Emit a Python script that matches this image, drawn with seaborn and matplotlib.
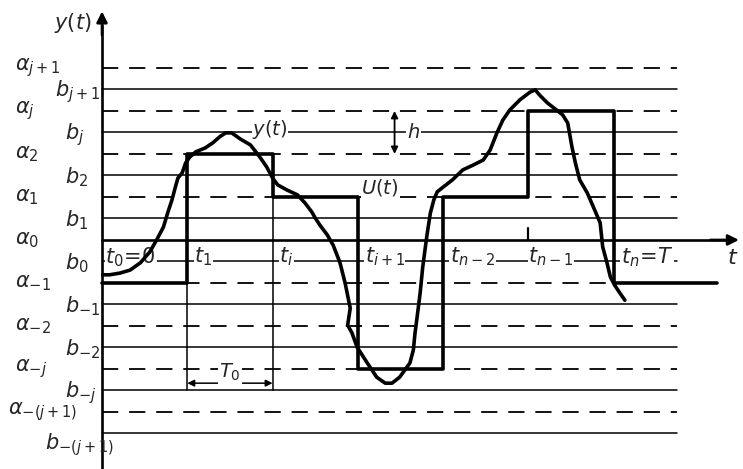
import matplotlib
matplotlib.use("Agg")
import matplotlib.pyplot as plt
import seaborn as sns
import pandas as pd

sns.set_theme(style="white")
plt.rcParams["font.family"] = ["DejaVu Sans"]
plt.rcParams["mathtext.fontset"] = "dejavusans"

# ---- data (t in units of T0, y in units of h) ----
a_levels = [4, 3, 2, 1, 0, -1, -2, -3, -4]
a_labels = [r"$\alpha_{j+1}$", r"$\alpha_j$", r"$\alpha_2$", r"$\alpha_1$", r"$\alpha_0$",
            r"$\alpha_{-1}$", r"$\alpha_{-2}$", r"$\alpha_{-j}$", r"$\alpha_{-(j+1)}$"]
b_levels = [3.5, 2.5, 1.5, 0.5, -0.5, -1.5, -2.5, -3.5, -4.5]
b_labels = [r"$b_{j+1}$", r"$b_j$", r"$b_2$", r"$b_1$", r"$b_0$",
            r"$b_{-1}$", r"$b_{-2}$", r"$b_{-j}$", r"$b_{-(j+1)}$"]

t_ticks = [0, 1, 2, 3, 4, 5, 6]
t_labels = [r"$t_0\!=\!0$", r"$t_1$", r"$t_i$", r"$t_{i+1}$", r"$t_{n-2}$", r"$t_{n-1}$", r"$t_n\!=\!T$"]

u_t = [0, 1, 2, 3, 4, 5, 6, 7.21]
u_val = [-1, 2, 1, -3, 1, 3, -1, -1]

y_t = [0.01, 0.09, 0.21, 0.33, 0.45, 0.56, 0.64, 0.72, 0.77, 0.82, 0.86, 0.89, 0.94, 0.98,
       1.03, 1.10, 1.21, 1.30, 1.38, 1.45, 1.52, 1.62, 1.74, 1.85, 1.93, 2.00, 2.06, 2.17,
       2.29, 2.38, 2.46, 2.50, 2.56, 2.64, 2.71, 2.79, 2.85, 2.91, 2.91, 2.88, 2.93, 2.99,
       3.11, 3.22, 3.32, 3.40, 3.49, 3.61, 3.65, 3.67, 3.69, 3.73, 3.76, 3.81, 3.81, 3.85,
       3.89, 3.93, 4.00, 4.11, 4.23, 4.35, 4.47, 4.55, 4.63, 4.70, 4.78, 4.90, 5.02, 5.08,
       5.13, 5.22, 5.33, 5.40, 5.46, 5.51, 5.55, 5.60, 5.69, 5.76, 5.84, 5.87, 5.92, 5.96,
       6.01, 6.07, 6.13]
y_val = [-0.81, -0.81, -0.77, -0.70, -0.53, -0.28, 0.00, 0.30, 0.63, 0.93, 1.23, 1.44, 1.56, 1.79,
         1.93, 2.05, 2.14, 2.26, 2.40, 2.49, 2.49, 2.35, 2.21, 1.93, 1.70, 1.44, 1.28, 1.16,
         1.05, 0.86, 0.65, 0.51, 0.33, 0.12, -0.12, -0.53, -1.00, -1.47, -1.70, -1.98, -2.16, -2.49,
         -2.86, -3.19, -3.33, -3.33, -3.19, -2.86, -2.56, -2.16, -1.86, -1.23, -0.63, 0.00, 0.23, 0.63,
         0.93, 1.12, 1.23, 1.40, 1.63, 1.74, 1.86, 2.09, 2.49, 2.79, 3.02, 3.26, 3.44, 3.49,
         3.37, 3.19, 3.02, 2.91, 2.72, 2.16, 1.79, 1.40, 1.09, 0.77, 0.40, -0.16, -0.53, -0.86,
         -1.05, -1.23, -1.40]

# ---- figure ----
fig = plt.figure(figsize=(7.43, 4.69), dpi=100)
ax = fig.add_axes([0, 0, 1, 1])

x_end = 6.74
thin = 1.1
# horizontal level lines
for lv in a_levels:
    if lv == 0:
        continue
    ax.plot([0, x_end], [lv, lv], color="black", lw=1.3, ls=(0, (9, 6)), zorder=1)
for lv in b_levels:
    ax.plot([0, x_end], [lv, lv], color="black", lw=thin, zorder=1)

# axes
ax.plot([0, 0], [-5.33, 5.0], color="black", lw=1.9, zorder=3)
ax.annotate("", xy=(0, 5.38), xytext=(0, 4.7),
            arrowprops=dict(arrowstyle="-|>", lw=1.9, color="black", mutation_scale=16))
ax.plot([0, 7.3], [0, 0], color="black", lw=1.9, zorder=3)
ax.annotate("", xy=(7.5, 0), xytext=(7.1, 0),
            arrowprops=dict(arrowstyle="-|>", lw=1.9, color="black", mutation_scale=16))
ax.plot([t_ticks[5], t_ticks[5]], [0, 0.28], color="black", lw=1.6, zorder=3)

# thin verticals below steps
ax.plot([t_ticks[1], t_ticks[1]], [u_val[0], -3.5], color="black", lw=thin, zorder=2)
ax.plot([t_ticks[2], t_ticks[2]], [u_val[2], -3.5], color="black", lw=thin, zorder=2)

# U(t) staircase
df_u = pd.DataFrame({"t": u_t, "u": u_val})
sns.lineplot(data=df_u, x="t", y="u", drawstyle="steps-post", color="black", lw=2.6,
             ax=ax, sort=False, zorder=4)

# y(t) curve
df_y = pd.DataFrame({"t": y_t, "y": y_val})
sns.lineplot(data=df_y, x="t", y="y", color="black", lw=2.6, ax=ax, sort=False, zorder=8,
             solid_joinstyle="round", solid_capstyle="round")
ax.set_xlim(-1.196, 7.515)
ax.set_ylim(-5.326, 5.58)
ax.axis("off")

fs = 15
white = dict(facecolor="white", edgecolor="none", pad=0.5)
# level labels
for lv, lab in zip(a_levels, a_labels):
    x = -1.10 if lab == r"$\alpha_{-(j+1)}$" else -1.02
    ax.text(x, lv, lab, fontsize=fs, ha="left", va="center")
for lv, lab in zip(b_levels, b_labels):
    x = -0.43
    dy = -0.05
    if lab == r"$b_{j+1}$":
        x = -0.55
    if lab == r"$b_{-(j+1)}$":
        x, dy = -0.67, -0.25
    ax.text(x, lv + dy, lab, fontsize=fs, ha="left", va="center")

# time labels
for tk, lab in zip(t_ticks, t_labels):
    dx = 0.0 if tk == 5 else 0.08
    if tk == 0:
        dx = 0.04
    ax.text(tk + dx, -0.4, lab, fontsize=fs, ha="left", va="center", bbox=white, zorder=6)

ax.text(-0.34, 5.05, r"$y(t)$", fontsize=fs, ha="center", va="center")
ax.text(7.4, -0.42, r"$t$", fontsize=fs + 1, ha="center", va="center")
ax.text(1.97, 2.56, r"$y(t)$", fontsize=fs - 1, ha="center", va="center", bbox=white, zorder=6)
ax.text(3.26, 1.23, r"$U(t)$", fontsize=fs - 1, ha="center", va="center", bbox=white, zorder=6)
ax.text(3.65, 2.49, r"$h$", fontsize=fs - 1, ha="center", va="center", bbox=white, zorder=6)
ax.annotate("", xy=(3.43, 3.0), xytext=(3.43, 2.0),
            arrowprops=dict(arrowstyle="<|-|>", lw=1.3, color="black", mutation_scale=10,
                            shrinkA=0, shrinkB=0), zorder=6)
# T0 interval
ax.annotate("", xy=(t_ticks[1], -3.33), xytext=(t_ticks[2], -3.33),
            arrowprops=dict(arrowstyle="<|-|>", lw=1.1, color="black", mutation_scale=10,
                            shrinkA=0, shrinkB=0))
ax.text(1.5, -3.08, r"$T_0$", fontsize=fs - 1, ha="center", va="center", bbox=white, zorder=6)

fig.savefig("out.png", dpi=100)
